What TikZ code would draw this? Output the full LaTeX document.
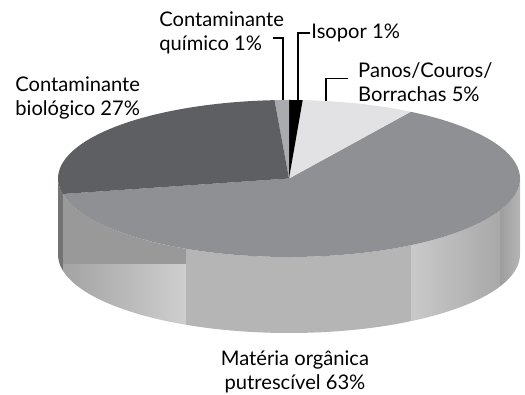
\documentclass[tikz,border=0pt]{standalone}
\usepackage{fontspec}
\setmainfont{Lato}
\usepackage{tikz}

\definecolor{organica}{HTML}{8F9093}
\definecolor{panos}{HTML}{E2E2E4}
\definecolor{quimico}{HTML}{AAABAE}
\definecolor{biologico}{HTML}{5E5F62}

\begin{document}
\begin{tikzpicture}[x=0.03cm, y=0.03cm,
		label node/.style={inner sep=1pt, align=left, font=\fontsize{17.2}{20.5}\selectfont},
		leader/.style={draw=black, line width=0.9pt}]
		
		\useasboundingbox (0,0) rectangle (525,395);
		\coordinate (C) at (289,216.5);
		
		% side of the pie
		\begin{scope}
		\path[clip] (58,216.5) -- (58,140.5) arc[start angle=180, end angle=360, x radius=231, y radius=78.5]
		-- (520,216.5) arc[start angle=0, end angle=-180, x radius=231, y radius=78.5] -- cycle;
		\fill[black!55] (55,60) rectangle (63,220);
		\fill[black!40] (63,130) rectangle (186,220);
		\shade[left color=black!36, right color=black!19] (63,50) rectangle (186,130);
		\fill[black!29] (186,50) rectangle (411,220);
		\shade[left color=black!21, right color=black!34] (411,50) rectangle (500,220);
		\shade[left color=black!38, right color=black!27] (500,50) rectangle (525,220);
		\end{scope}
		
		% top of the pie
		\fill[organica] (C) -- +(-168.6:231 and 78.5) arc[start angle=-168.6, end angle=58.2, x radius=231, y radius=78.5] -- cycle;
		\fill[panos] (C) -- +(58.2:231 and 78.5) arc[start angle=58.2, end angle=86.6, x radius=231, y radius=78.5] -- cycle;
		\fill[black] (C) -- +(86.6:231 and 78.5) arc[start angle=86.6, end angle=90, x radius=231, y radius=78.5] -- cycle;
		\fill[quimico] (C) -- +(90:231 and 78.5) arc[start angle=90, end angle=93.6, x radius=231, y radius=78.5] -- cycle;
		\fill[biologico] (C) -- +(93.6:231 and 78.5) arc[start angle=93.6, end angle=191.4, x radius=231, y radius=78.5] -- cycle;
		
		% labels
		\node[label node, anchor=west] (bio) at (14,297) {Contaminante\\biológico 27\%};
		\node[label node, anchor=west] (quim) at (158,362) {Contaminante\\químico 1\%};
		\node[label node, anchor=west] (iso) at (310,362) {Isopor 1\%};
		\node[label node, anchor=west, inner xsep=8.5pt] (pan) at (348,313) {Panos/Couros/\\Borrachas 5\%};
		\node[label node, align=center] (mat) at (295,23) {Matéria orgânica\\putrescível 63\%};
		
		\coordinate (quimP) at (283,295);
		\coordinate (isoP) at (298,295);
		\coordinate (panP) at (326,294);
		\draw[leader] (quimP) -- ++(0,62) -- ++(-10,0);
		\draw[leader] (isoP) |- (iso.west);
		\draw[leader] (panP) |- ([yshift=3pt]pan.west);
		\end{tikzpicture}
\end{document}
